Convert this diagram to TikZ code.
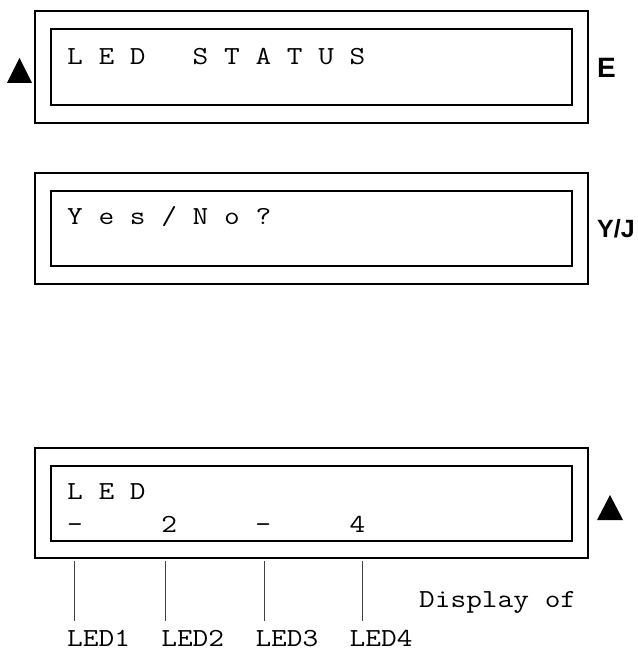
\documentclass[tikz,border=0pt]{standalone}
\usepackage{fontspec}
\usepackage{graphicx}
\newfontfamily\keyfont{Liberation Sans}
\newcommand\lcdtext[1]{\scalebox{1.172}[1]{#1}}
\tikzset{
  frame/.style={draw, line width=2pt, rectangle, inner sep=0pt, outer sep=0pt},
  lcd/.style={font=\fontsize{26}{26}\selectfont\ttfamily, anchor=base west, inner sep=0pt},
  keylabel/.style={font=\keyfont\bfseries, anchor=base west, inner sep=0pt},
  tick/.style={draw=black!75, line width=0.8pt},
  marker/.style={fill=black}
}
\begin{document}
\begin{tikzpicture}[x=1pt,y=-1pt]
\useasboundingbox (0,0) rectangle (637,650);
% box 1
\node[frame, minimum width=553pt, minimum height=112pt] (o1) at (311.5,67) {};
\node[frame, minimum width=521pt, minimum height=76pt] (i1) at (311.5,67) {};
\node[lcd] (t1) at (67,65) {\lcdtext{L~E~D~~~S~T~A~T~U~S}};
\node[keylabel, font=\keyfont\bfseries\fontsize{28}{28}\selectfont] (e1) at (597,78) {E};
\fill[marker] (7,83) -- (32,83) -- (19.5,58) -- cycle;
% box 2
\node[frame, minimum width=553pt, minimum height=111pt] (o2) at (311.5,228.5) {};
\node[frame, minimum width=521pt, minimum height=75pt] (i2) at (311.5,228.5) {};
\node[lcd] (t2) at (67,224) {\lcdtext{Y~e~s~/~N~o~?}};
\node[keylabel, font=\keyfont\bfseries\fontsize{25}{25}\selectfont] (e2) at (597,237) {Y/J};
% box 3
\node[frame, minimum width=553pt, minimum height=110pt] (o3) at (311.5,503) {};
\node[frame, minimum width=521pt, minimum height=75pt] (i3) at (311.5,503.5) {};
\node[lcd] (t3a) at (67,499) {\lcdtext{L~E~D}};
\node[lcd] (t3b) at (67,532) {\lcdtext{-~~~~~2~~~~~-~~~~~4}};
\fill[marker] (597,520) -- (623,520) -- (610,495) -- cycle;
% leader lines
\coordinate (a1) at (74,561);  \coordinate (b1) at (74,621);
\coordinate (a2) at (165,561); \coordinate (b2) at (165,621);
\coordinate (a3) at (264,561); \coordinate (b3) at (264,621);
\coordinate (a4) at (362,561); \coordinate (b4) at (362,621);
\draw[tick] (a1) -- (b1);
\draw[tick] (a2) -- (b2);
\draw[tick] (a3) -- (b3);
\draw[tick] (a4) -- (b4);
\node[lcd] (lbl) at (67,646) {\lcdtext{LED1~~LED2~~LED3~~LED4}};
\node[lcd] (disp) at (419,607) {\lcdtext{Display~of}};
\end{tikzpicture}
\end{document}
